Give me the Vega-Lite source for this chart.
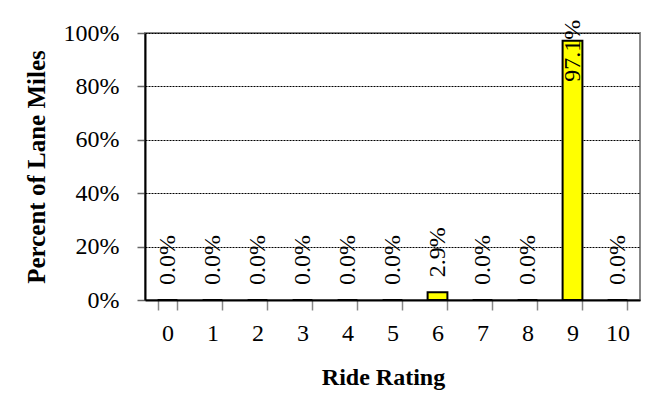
{
  "$schema": "https://vega.github.io/schema/vega-lite/v6.json",
  "width": 495,
  "height": 267,
  "autosize": {"type": "none"},
  "padding": {"left": 145, "top": 33, "right": 22, "bottom": 94},
  "background": "white",
  "config": {
    "font": "Liberation Serif",
    "view": {"stroke": "#888888", "strokeWidth": 2}
  },
  "data": {
    "values": [
      {"rating": "0", "pct": 0},
      {"rating": "1", "pct": 0},
      {"rating": "2", "pct": 0},
      {"rating": "3", "pct": 0},
      {"rating": "4", "pct": 0},
      {"rating": "5", "pct": 0},
      {"rating": "6", "pct": 0.029},
      {"rating": "7", "pct": 0},
      {"rating": "8", "pct": 0},
      {"rating": "9", "pct": 0.971},
      {"rating": "10", "pct": 0}
    ]
  },
  "encoding": {
    "x": {
      "field": "rating",
      "type": "ordinal",
      "sort": null,
      "scale": {"paddingInner": 0.56, "paddingOuter": 0.28},
      "axis": {
        "title": "Ride Rating",
        "titleFontSize": 24,
        "titleFontWeight": "bold",
        "titleColor": "black",
        "titlePadding": 20,
        "titleX": 238,
        "titleAlign": "center",
        "labelFontSize": 24,
        "labelAngle": 0,
        "labelColor": "black",
        "labelPadding": 11,
        "tickBand": "extent",
        "tickColor": "#888888",
        "tickSize": 10,
        "tickWidth": 1.5,
        "domainColor": "black",
        "domainWidth": 2,
        "grid": false
      }
    }
  },
  "layer": [
    {
      "mark": {"type": "bar", "fill": "#FFFF00", "stroke": "black", "strokeWidth": 2},
      "encoding": {
        "y": {
          "field": "pct",
          "type": "quantitative",
          "scale": {"domain": [0, 1], "nice": false},
          "axis": {
            "title": "Percent of Lane Miles",
            "titleFontSize": 25,
            "titleFontWeight": "bold",
            "titleColor": "black",
            "titlePadding": 14,
            "values": [0, 0.2, 0.4, 0.6, 0.8, 1],
            "format": ".0%",
            "labelFontSize": 24,
            "labelColor": "black",
            "labelPadding": 18,
            "tickSize": 8,
            "tickColor": "#666666",
            "tickWidth": 1.5,
            "domainColor": "black",
            "domainWidth": 2,
            "grid": true,
            "gridColor": "black",
            "gridDash": [2, 1],
            "gridWidth": 1
          }
        }
      }
    },
    {
      "transform": [{"filter": "datum.pct < 0.5"}],
      "mark": {"type": "text", "angle": 270, "align": "left", "baseline": "middle", "dx": 15, "fontSize": 24, "color": "black"},
      "encoding": {
        "y": {"field": "pct", "type": "quantitative"},
        "text": {"field": "pct", "type": "quantitative", "format": ".1%"}
      }
    },
    {
      "transform": [{"filter": "datum.pct >= 0.5"}],
      "mark": {"type": "text", "angle": 270, "align": "left", "baseline": "middle", "dx": -41, "fontSize": 24, "color": "black"},
      "encoding": {
        "y": {"field": "pct", "type": "quantitative"},
        "text": {"field": "pct", "type": "quantitative", "format": ".1%"}
      }
    }
  ]
}
